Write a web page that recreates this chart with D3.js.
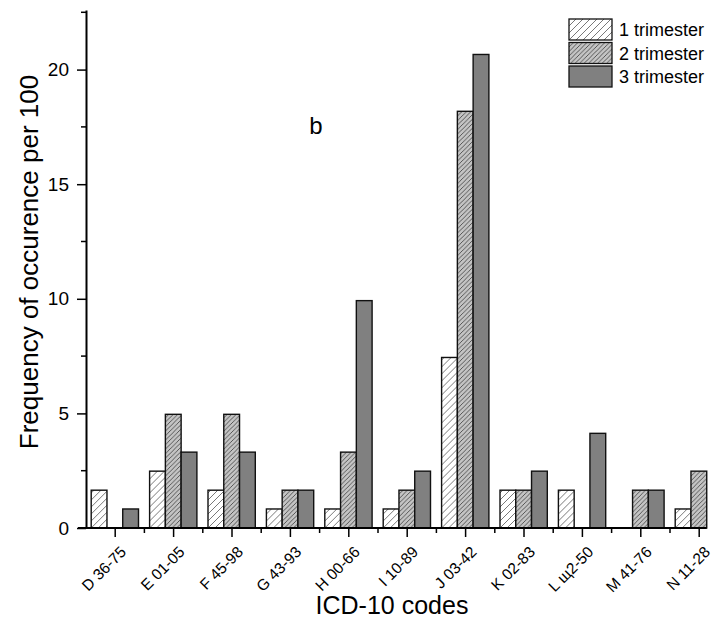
<!DOCTYPE html>
<html>
<head>
<meta charset="utf-8">
<script src="https://cdn.jsdelivr.net/npm/d3@7"></script>
<style>
  body { margin: 0; background: #fff; }
  svg { font-family: "Liberation Sans", Arial, sans-serif; }
</style>
</head>
<body>
<div id="chart"></div>
<script>
// data
var codes = ["D 36-75", "E 01-05", "F 45-98", "G 43-93", "H 00-66", "I 10-89",
             "J 03-42", "K 02-83", "L щ2-50", "M 41-76", "N 11-28"];
var trimesters = ["1 trimester", "2 trimester", "3 trimester"];
var tri1 = [1.65, 2.48, 1.65, 0.83, 0.83, 0.83, 7.44, 1.65, 1.65, 0, 0.83];
var tri2 = [0, 4.96, 4.96, 1.65, 3.31, 1.65, 18.18, 1.65, 0, 1.65, 2.48];
var tri3 = [0.83, 3.31, 3.31, 1.65, 9.92, 2.48, 20.66, 2.48, 4.13, 1.65, 0];
var yTicks = [0, 5, 10, 15, 20];

var W = 723, H = 639;
var svg = d3.select("#chart").append("svg")
            .attr("width", W)
            .attr("height", H);

// hatch patterns
var defs = svg.append("defs");
function hatch(id, bg, line, step, lw) {
  var p = defs.append("pattern")
      .attr("id", id)
      .attr("patternUnits", "userSpaceOnUse")
      .attr("width", step).attr("height", step);
  p.append("rect").attr("width", step).attr("height", step).attr("fill", bg);
  p.append("path")
      .attr("d", `M0,${step} L${step},0 M${-step/2},${step/2} L${step/2},${-step/2} M${step/2},${step*1.5} L${step*1.5},${step/2}`)
      .attr("stroke", line).attr("stroke-width", lw);
}
hatch("h1", "#ffffff", "#6a6a6a", 7, 0.9);
hatch("h2", "#c4c4c4", "#4a4a4a", 4.5, 0.9);

var fills = ["url(#h1)", "url(#h2)", "#808080"];

var x0 = d3.scaleBand().domain(codes).range([86, 86 + 11 * 58.4]);
var x1 = d3.scaleBand().domain(trimesters).range([-24, 23.3]);
var y = d3.scaleLinear().domain([0, 22.6]).range([528, 10]);

var series = [tri1, tri2, tri3];
var rows = codes.map(function(c, i) {
  return { code: c, vals: trimesters.map(function(t, k) { return { t: t, k: k, v: series[k][i] }; }) };
});

// bars
var grp = svg.selectAll(".grp").data(rows).enter().append("g")
    .attr("class", "grp")
    .attr("transform", d => `translate(${x0(d.code) + x0.bandwidth() / 2},0)`);

grp.selectAll("rect").data(d => d.vals.filter(v => v.v > 0)).enter().append("rect")
    .attr("x", d => x1(d.t))
    .attr("width", x1.bandwidth())
    .attr("y", d => y(d.v))
    .attr("height", d => y(0) - y(d.v))
    .attr("fill", d => fills[d.k])
    .attr("stroke", "#111")
    .attr("stroke-width", 1.4);

// y axis
var yMinor = d3.range(2.5, 22.6, 5);
svg.append("g")
    .selectAll("line").data(yMinor).enter().append("line")
    .attr("x1", 81).attr("x2", 86)
    .attr("y1", d => y(d)).attr("y2", d => y(d))
    .attr("stroke", "#000").attr("stroke-width", 1.5);

var yAxis = svg.append("g")
    .attr("transform", "translate(86,0)")
    .call(d3.axisLeft(y).tickValues(yTicks).tickSize(9).tickPadding(8).tickSizeOuter(0));
yAxis.select(".domain").attr("stroke-width", 2);
yAxis.selectAll(".tick line").attr("stroke-width", 1.5);
yAxis.selectAll("text").style("font-size", "19px").attr("fill", "#000");

// x axis
var xAxis = svg.append("g")
    .attr("transform", `translate(0,${y(0)})`)
    .call(d3.axisBottom(x0).tickSize(9).tickSizeOuter(0).tickFormat(""));
xAxis.select(".domain")
    .attr("d", `M${x0.range()[0] - 8},0H${x0(codes[codes.length - 1]) + x0.bandwidth() / 2 + 7.5}`)
    .attr("stroke-width", 2);
xAxis.selectAll(".tick line").attr("stroke-width", 1.5);

svg.append("g")
    .selectAll("line").data(codes.slice(1)).enter().append("line")
    .attr("x1", d => x0(d)).attr("x2", d => x0(d))
    .attr("y1", y(0)).attr("y2", y(0) + 5)
    .attr("stroke", "#000").attr("stroke-width", 1.5);

svg.append("g")
    .selectAll("text").data(codes).enter().append("text")
    .attr("transform", d => `translate(${x0(d) + x0.bandwidth() / 2 + 12},${y(0) + 25}) rotate(-45)`)
    .attr("text-anchor", "end")
    .style("font-size", "15.5px")
    .text(d => d);

// axis titles
svg.append("text")
    .attr("x", 392).attr("y", 614)
    .attr("text-anchor", "middle")
    .style("font-size", "25px")
    .text("ICD-10 codes");

svg.append("text")
    .attr("transform", "translate(38,262) rotate(-90)")
    .attr("text-anchor", "middle")
    .style("font-size", "26px")
    .text("Frequency of occurence per 100");

svg.append("text")
    .attr("x", 316).attr("y", 134)
    .attr("text-anchor", "middle")
    .style("font-size", "24px")
    .text("b");

// legend
var leg = svg.append("g").attr("transform", "translate(569,19)");
var li = leg.selectAll("g").data(trimesters).enter().append("g")
    .attr("transform", (d, i) => `translate(0,${i * 23.5})`);
li.append("rect")
    .attr("width", 43).attr("height", 21)
    .attr("fill", (d, i) => fills[i])
    .attr("stroke", "#111").attr("stroke-width", 1.3);
li.append("text")
    .attr("x", 50).attr("y", 17)
    .style("font-size", "18px")
    .text(d => d);
</script>
</body>
</html>
